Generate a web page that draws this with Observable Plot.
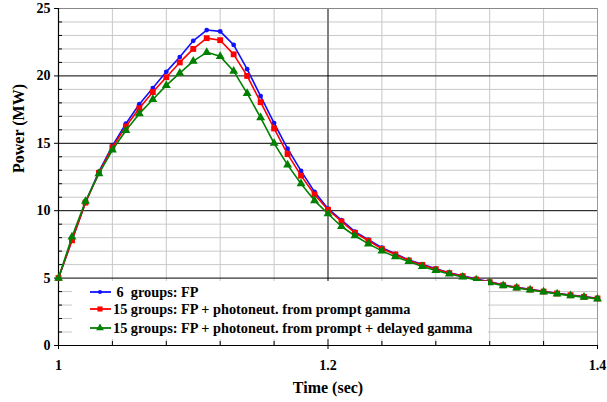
<!DOCTYPE html>
<html>
<head>
<meta charset="utf-8">
<script src="https://cdn.jsdelivr.net/npm/d3@7"></script>
<script src="https://cdn.jsdelivr.net/npm/@observablehq/plot@0.6"></script>
<style>
  html, body { margin: 0; padding: 0; background: #fff; }
  #wrap { position: relative; width: 607px; height: 402px; font-family: "Liberation Serif", "Times New Roman", serif; font-weight: bold; }
  #legend { position: absolute; left: 72px; top: 281px; width: 416px; height: 58px; background: #fff; }
  .row { position: absolute; left: 0; height: 18px; display: flex; align-items: center; font-size: 14.3px; white-space: pre; color: #000; }
  .row svg { margin-left: 18px; margin-right: 2px; }
</style>
</head>
<body>
<div id="wrap"></div>
<script>
const time = [1.00,1.01,1.02,1.03,1.04,1.05,1.06,1.07,1.08,1.09,1.10,1.11,1.12,1.13,1.14,1.15,1.16,1.17,1.18,1.19,1.20,1.21,1.22,1.23,1.24,1.25,1.26,1.27,1.28,1.29,1.30,1.31,1.32,1.33,1.34,1.35,1.36,1.37,1.38,1.39,1.40];
const blue  = [5.0,7.8,10.6,12.9,14.8,16.45,17.9,19.1,20.3,21.4,22.6,23.4,23.3,22.3,20.5,18.5,16.5,14.6,12.95,11.4,10.15,9.3,8.45,7.85,7.25,6.8,6.35,6.02,5.7,5.4,5.17,4.93,4.72,4.5,4.32,4.17,4.02,3.88,3.75,3.63,3.5];
const red   = [5.0,7.8,10.6,12.8,14.7,16.25,17.6,18.8,19.9,21.0,22.0,22.8,22.65,21.6,20.0,18.05,16.1,14.2,12.6,11.2,10.07,9.2,8.36,7.77,7.17,6.75,6.3,5.98,5.66,5.37,5.14,4.9,4.7,4.47,4.3,4.15,4.0,3.86,3.73,3.61,3.49];
const green = [5.0,8.05,10.7,12.75,14.5,15.95,17.2,18.25,19.3,20.2,21.1,21.75,21.45,20.35,18.7,16.9,15.0,13.4,12.0,10.75,9.77,8.83,8.14,7.54,7.02,6.58,6.23,5.86,5.56,5.3,5.08,4.86,4.66,4.44,4.27,4.12,3.97,3.83,3.7,3.58,3.46];
const seriesNames = ["6  groups: FP", "15 groups: FP + photoneut. from prompt gamma", "15 groups: FP + photoneut. from prompt + delayed gamma"];
const seriesColors = ["#1010ff", "#ff0000", "#008000"];
const seriesSymbols = ["circle", "square", "triangle"];
const xTickLabels = [1, 1.2, 1.4];
const xMinorTicks = [1.04,1.08,1.12,1.16,1.24,1.28,1.32,1.36];
const yTickLabels = [0,5,10,15,20,25];
const yMinorTicks = d3.range(1,25).filter(v => v % 5 !== 0);

const series = [blue, red, green];
const rows = [];
series.forEach((vals, s) => vals.forEach((v, i) => rows.push({t: time[i], p: v, s})));

const marks = [
  Plot.ruleX(xMinorTicks, {stroke: "#c8c8c8", strokeWidth: 1}),
  Plot.ruleY(yMinorTicks, {stroke: "#c8c8c8", strokeWidth: 1}),
  Plot.ruleX([1.2], {stroke: "#808080", strokeWidth: 2}),
  Plot.ruleX([1.4], {stroke: "#999", strokeWidth: 1}),
  Plot.ruleY([5,10,15,20], {stroke: "#000", strokeWidth: 1}),
  Plot.ruleY([25], {stroke: "#888", strokeWidth: 1}),
  Plot.ruleY([0], {stroke: "#000", strokeWidth: 1.2}),
  Plot.ruleX([1], {stroke: "#000", strokeWidth: 1.2}),
  Plot.axisX({ticks: xTickLabels, tickFormat: d => String(d), tickSize: 4, tickPadding: 11, fontSize: 14, fontWeight: "bold", label: null}),
  Plot.axisX({ticks: xMinorTicks, tickFormat: () => "", tickSize: -4, label: null}),
  Plot.axisY({ticks: yTickLabels, tickSize: 4, tickPadding: 4, fontSize: 14, fontWeight: "bold", label: null}),
  Plot.axisY({ticks: yMinorTicks, tickFormat: () => "", tickSize: -4, label: null}),
  Plot.text(["Power (MW)"], {frameAnchor: "left", lineAnchor: "middle", rotate: -90, dx: -40, dy: -4, fontSize: 16, fontWeight: "bold"}),
  Plot.text(["Time (sec)"], {frameAnchor: "bottom", lineAnchor: "middle", dy: 42, fontSize: 16, fontWeight: "bold"})
];
series.forEach((vals, s) => {
  const d = rows.filter(r => r.s === s);
  marks.push(Plot.line(d, {x: "t", y: "p", stroke: seriesColors[s], strokeWidth: 1.6}));
  marks.push(Plot.dot(d, {x: "t", y: "p", fill: seriesColors[s], stroke: "none", symbol: seriesSymbols[s], r: s === 0 ? 2.4 : 3.3}));
});

const chart = Plot.plot({
  width: 607, height: 402,
  marginLeft: 58, marginRight: 10, marginTop: 8, marginBottom: 57,
  x: {domain: [1, 1.4]},
  y: {domain: [0, 25]},
  style: {fontFamily: "'Liberation Serif', 'Times New Roman', serif", fontWeight: "bold", fontSize: "14px", color: "#000", background: "#fff"},
  marks
});
const wrap = document.getElementById("wrap");
wrap.appendChild(chart);

const legend = document.createElement("div");
legend.id = "legend";
const rowTops = [2, 19, 38];
seriesNames.forEach((name, s) => {
  const row = document.createElement("div");
  row.className = "row";
  row.style.top = rowTops[s] + "px";
  const sym = d3.symbol(s === 0 ? d3.symbolCircle : s === 1 ? d3.symbolSquare : d3.symbolTriangle, s === 0 ? 14 : 26)();
  row.innerHTML = `<svg width="21" height="10"><line x1="0" x2="21" y1="5" y2="5" stroke="${seriesColors[s]}" stroke-width="1.8"/><path d="${sym}" transform="translate(10,5)" fill="${seriesColors[s]}"/></svg>`;
  const span = document.createElement("span");
  span.textContent = (s === 0 ? " " : "") + name;
  row.appendChild(span);
  legend.appendChild(row);
});
wrap.appendChild(legend);
</script>
</body>
</html>
